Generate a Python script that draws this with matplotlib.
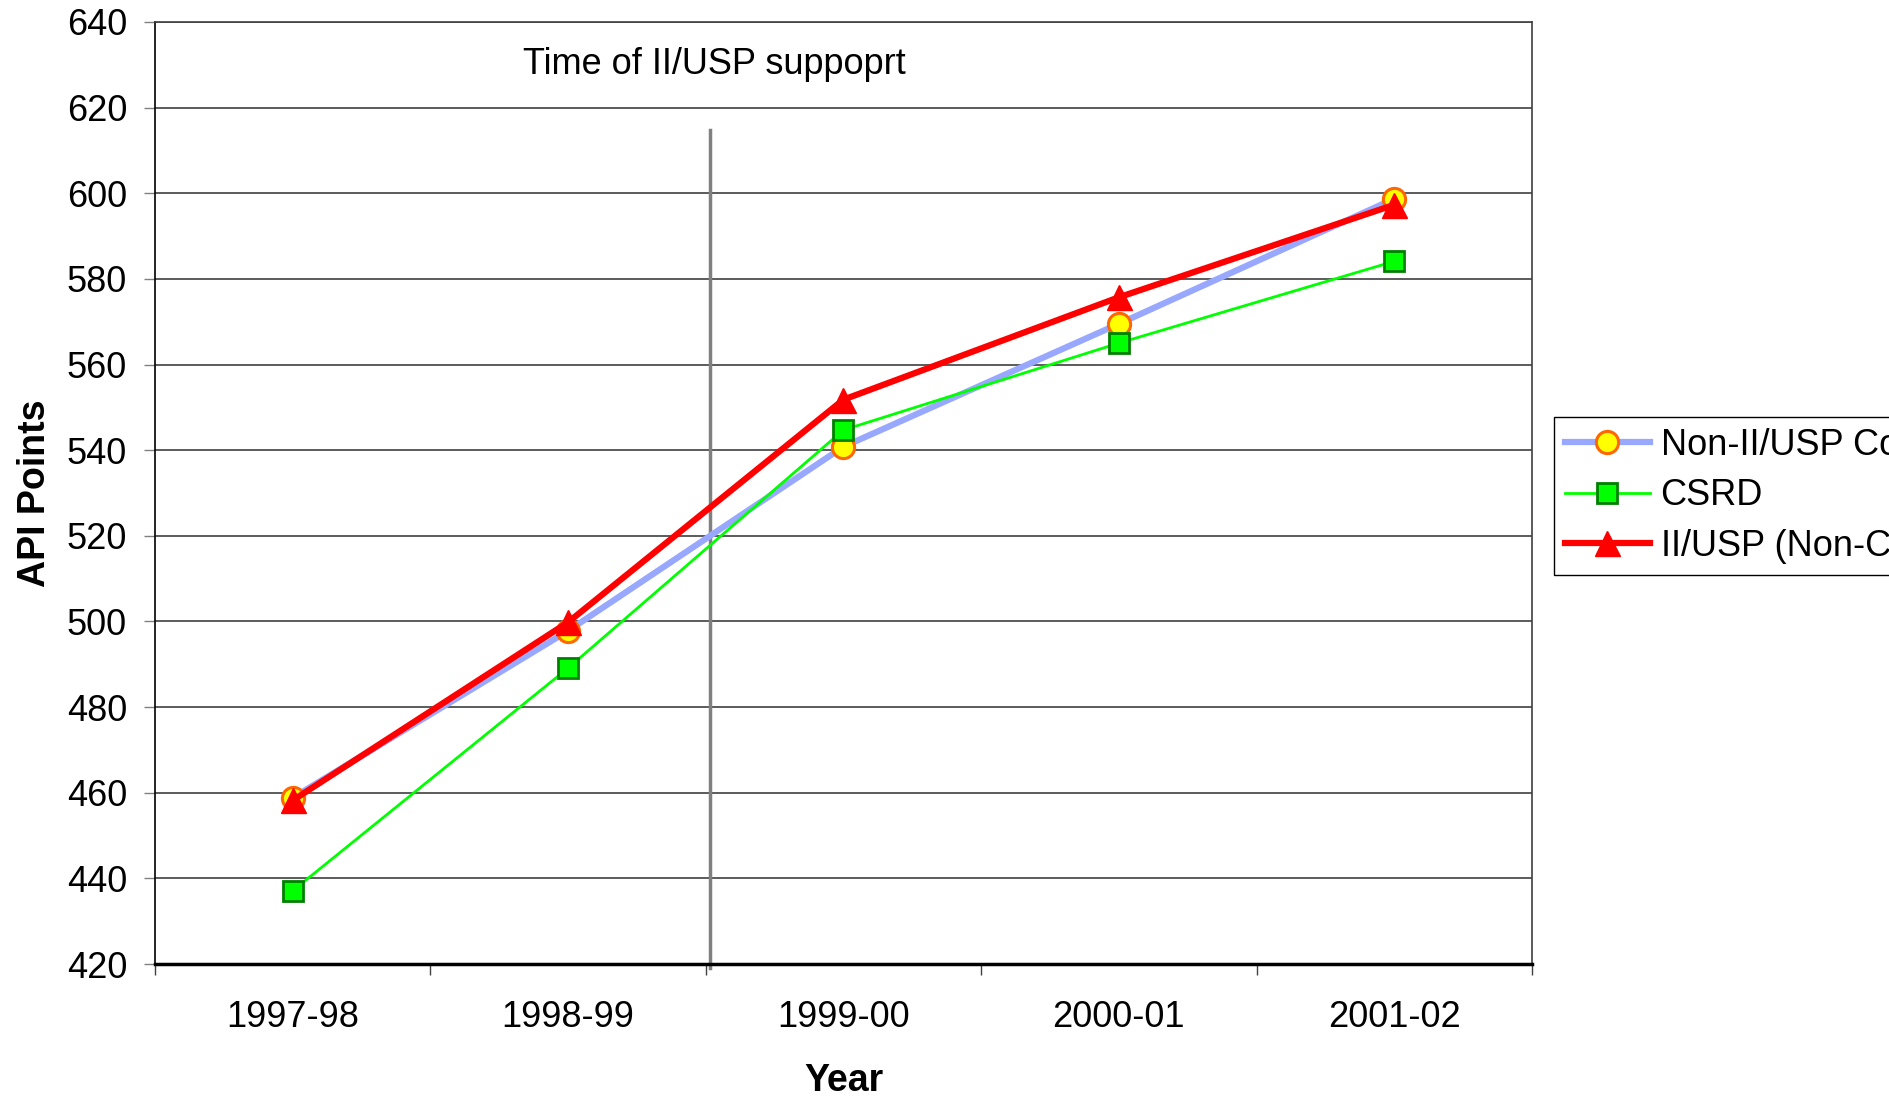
import matplotlib.pyplot as plt
from matplotlib.ticker import FixedLocator, MultipleLocator

plt.rcParams["font.family"] = ["Liberation Sans", "DejaVu Sans"]

years = ["1997-98", "1998-99", "1999-00", "2000-01", "2001-02"]
non_iiusp = [458.8, 497.8, 540.8, 569.5, 598.7]
csrd = [437.1, 489.1, 544.7, 565.0, 584.1]
iiusp = [458.2, 499.8, 551.8, 575.7, 597.3]

fig = plt.figure(figsize=(18.89, 10.96), dpi=100)
ax = fig.add_axes([0.082, 0.1204, 0.729, 0.8596])

x = list(range(len(years)))

ax.plot(x, non_iiusp, color="#99A8FF", linewidth=4.5, marker="o", markersize=16,
        markerfacecolor="#FFFF00", markeredgecolor="#FF6600", markeredgewidth=2.2,
        label="Non-II/USP Comparison", zorder=3)
ax.plot(x, csrd, color="#00FF00", linewidth=2.0, marker="s", markersize=14,
        markerfacecolor="#00FF00", markeredgecolor="#008000", markeredgewidth=2,
        label="CSRD", zorder=4)
ax.plot(x, iiusp, color="#FF0000", linewidth=4.5, marker="^", markersize=18,
        markerfacecolor="#FF0000", markeredgecolor="#FF0000",
        label="II/USP (Non-CSRD)", zorder=5)

# support marker line
ax.plot([1.515, 1.515], [614.8, 419.0], color="#808080", linewidth=2.5,
        clip_on=False, zorder=2)
ax.text(1.53, 630, "Time of II/USP suppoprt", ha="center", va="center", fontsize=26)

ax.set_xlim(-0.5, 4.5)
ax.set_ylim(420, 640)
ax.yaxis.set_major_locator(MultipleLocator(20))
ax.set_xticks(x)
ax.set_xticklabels(years)
ax.xaxis.set_minor_locator(FixedLocator([-0.5, 0.5, 1.5, 2.5, 3.5, 4.5]))
ax.tick_params(axis="x", which="major", length=0, labelsize=26, pad=26)
ax.tick_params(axis="x", which="minor", length=8, width=1, color="#404040")
ax.tick_params(axis="y", length=8, width=1, color="#808080", labelsize=26, pad=12)

ax.grid(True, axis="y", color="#404040", linewidth=1.2)
ax.set_axisbelow(True)
for side in ("top", "right"):
    ax.spines[side].set_color("#404040")
    ax.spines[side].set_linewidth(1.2)
ax.spines["left"].set_color("black")
ax.spines["left"].set_linewidth(1.2)
ax.spines["bottom"].set_color("black")
ax.spines["bottom"].set_linewidth(2.5)

ax.set_xlabel("Year", fontsize=27, fontweight="bold", labelpad=20)
ax.set_ylabel("API Points", fontsize=27, fontweight="bold", labelpad=10)

leg = fig.legend(loc="upper left", bbox_to_anchor=(0.8227, 0.6195), fontsize=26,
                 frameon=True, fancybox=False, edgecolor="black", framealpha=1,
                 handlelength=2.35, labelspacing=0.43, handletextpad=0.3,
                 borderpad=0.3, borderaxespad=0)
leg.get_frame().set_linewidth(1.0)

fig.savefig("out.png", dpi=100)
